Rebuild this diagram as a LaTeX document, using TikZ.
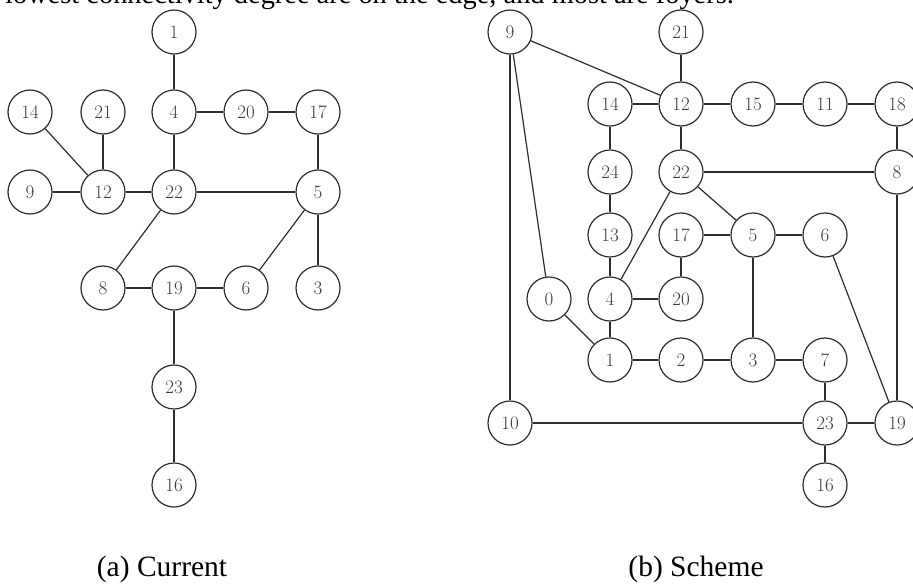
\documentclass[tikz,border=0pt]{standalone}
\usepackage{fontspec}
\newfontfamily\capfont{Liberation Serif}
\begin{document}
\begin{tikzpicture}[x=1pt,y=-1pt,
  vtx/.style={circle,draw=linecol,line width=1.2pt,minimum size=44pt,inner sep=0pt,
    font=\fontsize{19}{19}\selectfont,text=textcol},
  edge/.style={draw=linecol,line width=1.2pt},
  captext/.style={font=\capfont\fontsize{29.5}{29.5}\selectfont,text=black,inner sep=0pt,anchor=base}]
\definecolor{linecol}{RGB}{45,45,45}
\definecolor{textcol}{RGB}{60,60,60}
\useasboundingbox (0,0) rectangle (913,586);
\clip (0,0) rectangle (913,586);
\node[captext,anchor=base west,font=\capfont\fontsize{28.4}{28.4}\selectfont] (top) at (5,4) {lowest connectivity degree are on the edge, and most are foyers.};
% (a) Current
\node[vtx] (a1) at (174,32) {1};
\node[vtx] (a14) at (30,112) {14};
\node[vtx] (a21) at (103,112) {21};
\node[vtx] (a4) at (174,112) {4};
\node[vtx] (a20) at (246,112) {20};
\node[vtx] (a17) at (318,112) {17};
\node[vtx] (a9) at (30,192) {9};
\node[vtx] (a12) at (103,192) {12};
\node[vtx] (a22) at (174,192) {22};
\node[vtx] (a5) at (318,192) {5};
\node[vtx] (a8) at (103,288) {8};
\node[vtx] (a19) at (174,288) {19};
\node[vtx] (a6) at (246,288) {6};
\node[vtx] (a3) at (318,288) {3};
\node[vtx] (a23) at (174,387) {23};
\node[vtx] (a16) at (174,485) {16};
\foreach \u/\v in {a1/a4,a4/a20,a20/a17,a17/a5,a4/a22,a14/a12,a21/a12,a9/a12,a12/a22,a22/a5,a22/a8,a5/a6,a5/a3,a8/a19,a19/a6,a19/a23,a23/a16}
  \draw[edge] (\u) -- (\v);
\node[captext] (capa) at (162,576) {(a) Current};
% (b) Scheme
\node[vtx] (b9) at (510,32) {9};
\node[vtx] (b21) at (681,32) {21};
\node[vtx] (b14) at (610,104) {14};
\node[vtx] (b12) at (681,104) {12};
\node[vtx] (b15) at (753,104) {15};
\node[vtx] (b11) at (825,104) {11};
\node[vtx] (b18) at (897,104) {18};
\node[vtx] (b24) at (610,172) {24};
\node[vtx] (b22) at (681,172) {22};
\node[vtx] (b8) at (897,172) {8};
\node[vtx] (b13) at (610,235) {13};
\node[vtx] (b17) at (681,235) {17};
\node[vtx] (b5) at (753,235) {5};
\node[vtx] (b6) at (825,235) {6};
\node[vtx] (b0) at (549,299) {0};
\node[vtx] (b4) at (610,299) {4};
\node[vtx] (b20) at (681,299) {20};
\node[vtx] (b1) at (610,360) {1};
\node[vtx] (b2) at (681,360) {2};
\node[vtx] (b3) at (753,360) {3};
\node[vtx] (b7) at (825,360) {7};
\node[vtx] (b10) at (510,423) {10};
\node[vtx] (b23) at (825,423) {23};
\node[vtx] (b19) at (897,423) {19};
\node[vtx] (b16) at (825,485) {16};
\foreach \u/\v in {b9/b12,b9/b0,b9/b10,b21/b12,b14/b12,b12/b15,b15/b11,b11/b18,b18/b8,b12/b22,b14/b24,b24/b13,b13/b4,b22/b8,b22/b4,b22/b5,b17/b5,b5/b6,b17/b20,b4/b20,b5/b3,b6/b19,b8/b19,b0/b1,b4/b1,b1/b2,b2/b3,b3/b7,b7/b23,b10/b23,b23/b19,b23/b16}
  \draw[edge] (\u) -- (\v);
\node[captext] (capb) at (696,576) {(b) Scheme};
\end{tikzpicture}
\end{document}
